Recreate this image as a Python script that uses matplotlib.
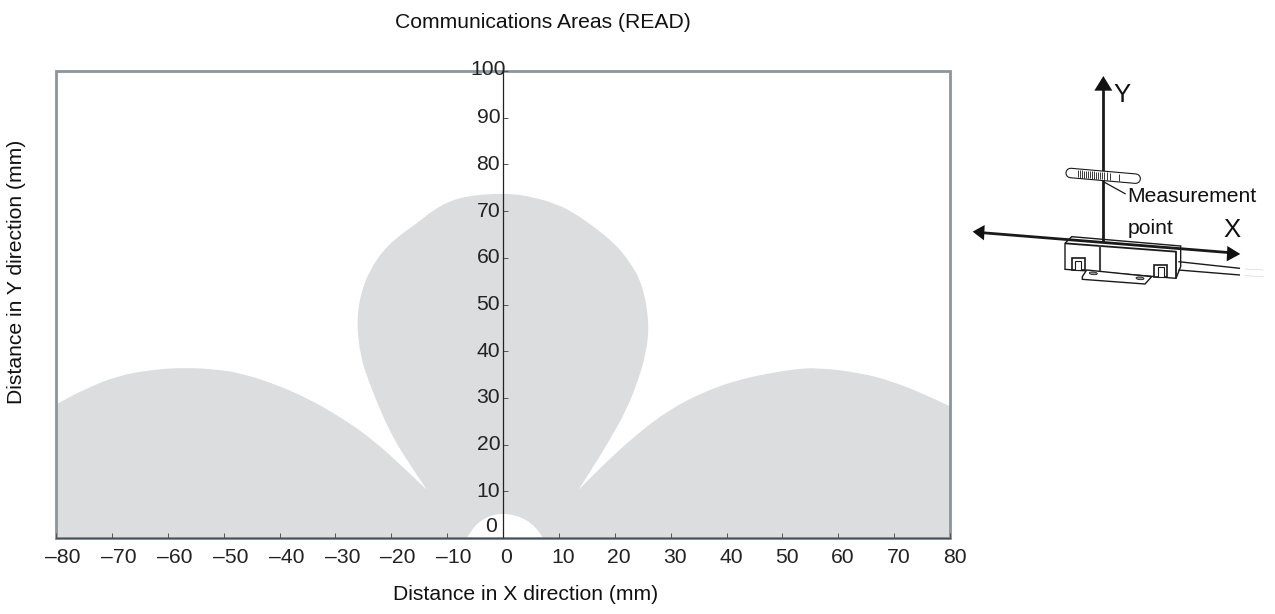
import matplotlib
matplotlib.use('Agg')
import matplotlib.pyplot as plt
from matplotlib.patches import Polygon, Rectangle, Ellipse, PathPatch
from matplotlib.path import Path
from matplotlib.transforms import ScaledTranslation

plt.rcParams['font.family'] = ['Liberation Sans', 'DejaVu Sans']

# outline of the communications area
left_lobe_x = [-80, -75, -69.1, -63.1, -57.2, -51.2, -47, -41.1, -35.1, -29.2, -23.2, -17.2, -13.6]
left_lobe_y = [28.6, 31.8, 34.7, 36, 36.5, 36.1, 35.3, 33.1, 30, 26, 21, 14.4, 10.3]
mid_left_x = [-16.6, -19.6, -22, -24.1, -25.5, -26.2, -25.5, -23.8, -21.4, -18.4, -15.4, -12.5, -9.5, -5.9, -1.7]
mid_left_y = [15.6, 21.3, 27.4, 33.8, 38.8, 46, 52.4, 57.4, 61.7, 64.9, 67.4, 70.2, 72.2, 73.3, 73.7]
mid_right_x = [1.7, 5.4, 9.6, 12.6, 16.2, 19.7, 22.7, 25, 26.2, 25.6, 24.2, 22.1, 19.1, 16.2, 13.5]
mid_right_y = [73.7, 73, 71.5, 69.7, 66.7, 63.4, 59.2, 54.2, 46, 39.5, 33.8, 27.4, 21, 15.3, 10.3]
right_lobe_x = [17.9, 23.9, 29.9, 35.8, 41.8, 47.8, 51.9, 56.1, 63.9, 69.8, 75.8, 80]
right_lobe_y = [15.6, 22.2, 27.6, 31.2, 33.8, 35.3, 36.1, 36.5, 35.4, 33.5, 30.6, 28.2]
hole_x = [7.1, 6.3, 5.1, 3.5, 1.6, 0, -1.5, -3, -4.4, -5.5, -6.5]
hole_y = [0, 1.6, 3.1, 4.3, 5, 5.2, 5, 4.4, 3.3, 1.9, 0]

x_ticks = [-80, -70, -60, -50, -40, -30, -20, -10, 0, 10, 20, 30, 40, 50, 60, 70, 80]
x_labels = ['–80', '–70', '–60', '–50', '–40', '–30', '–20', '–10', '0', '10', '20', '30', '40', '50', '60', '70', '80']
y_ticks = [0, 10, 20, 30, 40, 50, 60, 70, 80, 90, 100]
y_labels = ['', '10', '20', '30', '40', '50', '60', '70', '80', '90', '']

W, H = 1275, 614
fs = 15.2
txt = '#222222'


def smooth(verts, codes, xs, ys):
    # quadratic pieces through the midpoints, last point is hit exactly
    pts = list(zip(xs, ys))
    for i in range(len(pts) - 1):
        a, b = pts[i], pts[i + 1]
        if i == len(pts) - 2:
            verts += [a, b]
        else:
            verts += [a, ((a[0] + b[0]) / 2, (a[1] + b[1]) / 2)]
        codes += [Path.CURVE3, Path.CURVE3]


fig = plt.figure(figsize=(W / 100, H / 100), dpi=100)
ax = fig.add_axes([56 / W, 1 - 538 / H, (950 - 56) / W, (538 - 71) / H])

verts = [(-80, 0), (-80, 28.6)]
codes = [Path.MOVETO, Path.LINETO]
smooth(verts, codes, left_lobe_x, left_lobe_y)
smooth(verts, codes, [-13.6] + mid_left_x + mid_right_x, [10.3] + mid_left_y + mid_right_y)
smooth(verts, codes, [13.5] + right_lobe_x, [10.3] + right_lobe_y)
verts += [(80, 0), (7.1, 0)]
codes += [Path.LINETO, Path.LINETO]
smooth(verts, codes, hole_x, hole_y)
verts.append((-80, 0))
codes.append(Path.LINETO)
ax.add_patch(PathPatch(Path(verts, codes), fc='#dcddde', ec='none', zorder=1))

ax.set_xlim(-80, 80)
ax.set_ylim(0, 100)
for s in ['top', 'right']:
    ax.spines[s].set_visible(False)
ax.spines['left'].set_position(('data', 0))
ax.spines['left'].set_color('#222222')
ax.spines['left'].set_linewidth(0.9)
ax.spines['bottom'].set_color('#4a4f54')
ax.spines['bottom'].set_linewidth(1.0)
ax.add_patch(Rectangle((0, 0), 1, 1, transform=ax.transAxes, fc='none', ec='#8b959d',
                       lw=2.0, clip_on=False, zorder=1.5))

ax.set_xticks(x_ticks)
ax.set_xticklabels(x_labels)
ax.set_yticks(y_ticks)
ax.set_yticklabels(y_labels)
ax.tick_params(axis='x', direction='in', length=3.5, width=0.7, color='#555555',
               labelsize=fs, labelcolor=txt, pad=7)
ax.tick_params(axis='y', direction='in', length=3.5, width=0.7, color='#555555',
               labelsize=fs, labelcolor=txt, pad=2)
for val, lb in zip(x_ticks, ax.get_xticklabels()):
    dx = 7 if val < 0 else (2.7 if val == 0 else 4.5)
    lb.set_transform(lb.get_transform() + ScaledTranslation(dx / 100, 0, fig.dpi_scale_trans))
for lb in ax.get_yticklabels():
    lb.set_transform(lb.get_transform() + ScaledTranslation(0, 2 / 100, fig.dpi_scale_trans))
ax.text(-1.1, 2.4, '0', ha='right', va='center', fontsize=fs, color=txt)
ax.text(0.5, 100.3, '100', ha='right', va='center', fontsize=fs, color=txt)

fig.text(542.5 / W, 1 - 23 / H, 'Communications Areas (READ)', ha='center', va='center', fontsize=fs, color='#111111')
fig.text(525.5 / W, 1 - 595 / H, 'Distance in X direction (mm)', ha='center', va='center', fontsize=fs, color='#111111')
fig.text(17 / W, 1 - 272 / H, 'Distance in Y direction (mm)', ha='center', va='center', rotation=90, fontsize=fs, color='#111111')

# sensor sketch on the right, coordinates in units of 1/3 pixel
sk = fig.add_axes([950 / W, 1 - 320 / H, 320 / W, 260 / H])
sk.set_xlim(0, 960)
sk.set_ylim(780, 0)
sk.axis('off')

ink = '#1a1a1a'


def line(xs, ys, lw=1.0, color=ink, **kw):
    sk.plot(xs, ys, color=color, lw=lw, solid_capstyle=kw.pop('cap', 'butt'), **kw)


# sensor body
sk.add_patch(Polygon([(345, 550), (365, 530), (692, 558), (692, 620), (678, 655), (400, 632), (345, 628)],
                     closed=True, fc='white', ec=ink, lw=1.0, zorder=2))
line([345, 678, 678], [550, 575, 655], lw=1.3, zorder=3)
line([450, 450], [555, 632], lw=1.5, color='#444444', zorder=3)
for cx, cy in [(385, 612), (632, 632)]:
    sk.add_patch(Rectangle((cx - 20, cy - 18), 40, 36, fc='white', ec=ink, lw=1.2, zorder=3))
    sk.add_patch(Rectangle((cx - 9, cy - 10), 18, 28, fc='white', ec=ink, lw=0.8, zorder=3))
sk.add_patch(Polygon([(397, 650), (410, 630), (605, 650), (585, 672), (397, 658)],
                     closed=True, fc='white', ec=ink, lw=1.0, zorder=2.5))
for cx, cy in [(430, 640), (570, 655)]:
    sk.add_patch(Ellipse((cx, cy), 24, 8, angle=5, fc='#999999', ec=ink, lw=0.6, zorder=3))
# cable
line([685, 870], [605, 625], lw=1.0)
line([685, 870], [630, 645], lw=1.0)
line([885, 940], [627, 630], lw=0.4, color='#cccccc')
line([885, 940], [647, 650], lw=0.4, color='#cccccc')

# axes of the sketch
line([460, 460], [545, 85], lw=2.0, zorder=4)
line([95, 840], [518, 578], lw=2.0, zorder=4)
sk.add_patch(Polygon([(460, 48), (433, 92), (487, 92)], closed=True, fc='#111111', ec='none', zorder=5))
sk.add_patch(Polygon([(68, 515), (104, 495), (102, 541)], closed=True, fc='#111111', ec='none', zorder=5))
sk.add_patch(Polygon([(871, 582), (832, 558), (830, 604)], closed=True, fc='#111111', ec='none', zorder=5))

# tag
line([362, 557], [339, 356], lw=7.6, color=ink, cap='round', zorder=6)
line([362, 557], [339, 356], lw=6.0, color='white', cap='round', zorder=7)
hatch_x = [385, 391, 397, 403, 409, 415, 421, 427, 433, 439, 445, 451, 457, 463, 471, 481, 507]
for hx in hatch_x:
    hy = 339 + (hx - 362) * 0.087
    line([hx, hx], [hy - 11, hy + 11], lw=0.6, zorder=8)
line([460, 527], [365, 402], lw=0.9, zorder=8)

sk.text(533, 410, 'Measurement', ha='left', va='center', fontsize=fs, color='#111111')
sk.text(533, 507, 'point', ha='left', va='center', fontsize=fs, color='#111111')
sk.text(516, 104, 'Y', ha='center', va='center', fontsize=18.5, color='#111111')
sk.text(847, 510, 'X', ha='center', va='center', fontsize=18.5, color='#111111')

fig.savefig('out.png', dpi=100)
